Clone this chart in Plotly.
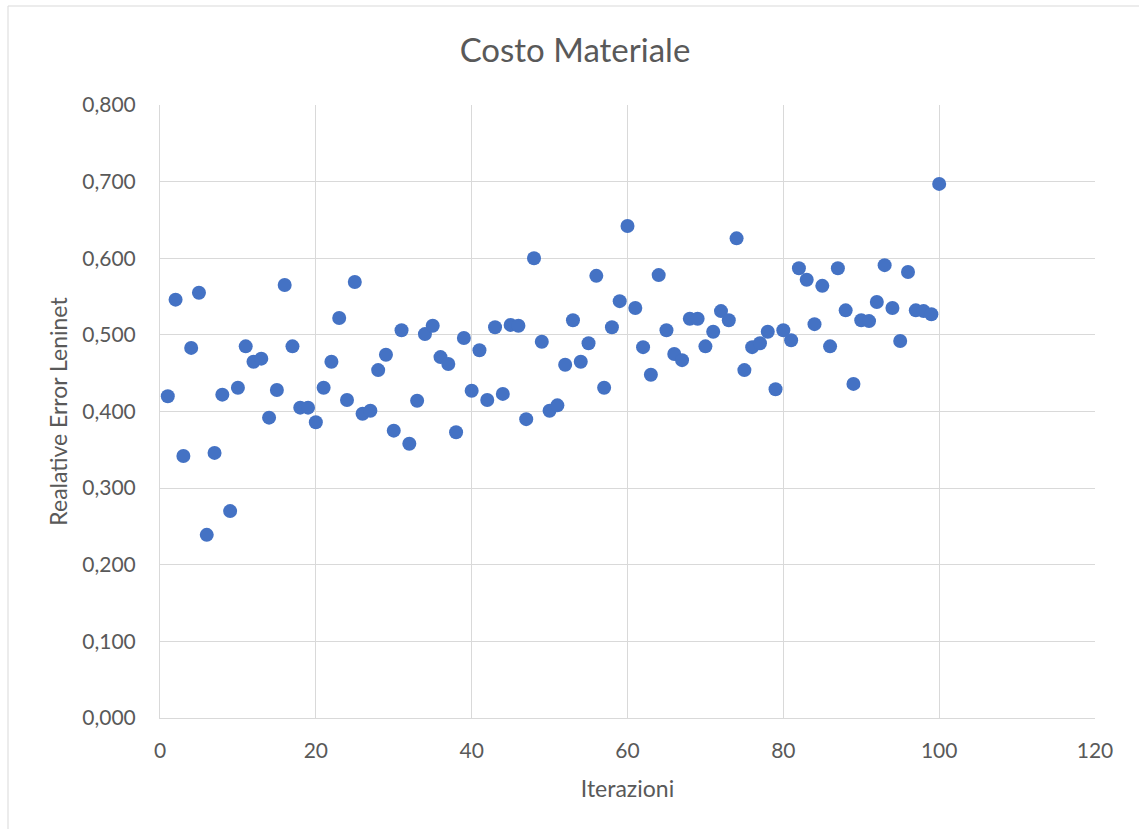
import plotly.graph_objects as go

# Relative error of the Leninet model at each iteration
iterazioni = list(range(1, 101))
errore_relativo = [
    0.420, 0.546, 0.342, 0.483, 0.555, 0.239, 0.346, 0.422, 0.270, 0.431,
    0.485, 0.465, 0.469, 0.392, 0.428, 0.565, 0.485, 0.405, 0.405, 0.386,
    0.431, 0.465, 0.522, 0.415, 0.569, 0.397, 0.401, 0.454, 0.474, 0.375,
    0.506, 0.358, 0.414, 0.501, 0.512, 0.471, 0.462, 0.373, 0.496, 0.427,
    0.480, 0.415, 0.510, 0.423, 0.513, 0.512, 0.390, 0.600, 0.491, 0.401,
    0.408, 0.461, 0.519, 0.465, 0.489, 0.577, 0.431, 0.510, 0.544, 0.642,
    0.535, 0.484, 0.448, 0.578, 0.506, 0.475, 0.467, 0.521, 0.521, 0.485,
    0.504, 0.531, 0.519, 0.626, 0.454, 0.484, 0.489, 0.504, 0.429, 0.506,
    0.493, 0.587, 0.572, 0.514, 0.564, 0.485, 0.587, 0.532, 0.436, 0.519,
    0.518, 0.543, 0.591, 0.535, 0.492, 0.582, 0.532, 0.531, 0.527, 0.697,
]

x_ticks = [0, 20, 40, 60, 80, 100, 120]
y_ticks = [0.0, 0.1, 0.2, 0.3, 0.4, 0.5, 0.6, 0.7, 0.8]

FONT = "Lato, 'Open Sans', sans-serif"
TEXT = "#595959"
GRID = "#d9d9d9"

fig = go.Figure(
    go.Scatter(
        x=iterazioni,
        y=errore_relativo,
        mode="markers",
        marker=dict(color="#4472c4", size=14, line=dict(width=0)),
        cliponaxis=False,
        showlegend=False,
    )
)

fig.update_layout(
    width=1139,
    height=829,
    margin=dict(l=160, r=44, t=105, b=111),
    paper_bgcolor="white",
    plot_bgcolor="white",
    separators=",.",
    font=dict(family=FONT, color=TEXT, size=21),
    title=dict(
        text="Costo Materiale",
        x=575 / 1139,
        xanchor="center",
        y=1 - 50 / 829,
        yanchor="middle",
        font=dict(family=FONT, size=33, color=TEXT),
    ),
    xaxis=dict(
        range=[0, 120],
        tickvals=x_ticks,
        showgrid=True,
        gridcolor=GRID,
        gridwidth=1,
        zeroline=False,
        showline=True,
        linecolor=GRID,
        linewidth=1,
        ticks="",
        ticklabelstandoff=14,
        tickfont=dict(size=21, color=TEXT),
        title=dict(text="Iterazioni", font=dict(size=23, color=TEXT), standoff=19),
    ),
    yaxis=dict(
        range=[0, 0.8],
        tickvals=y_ticks,
        tickformat=".3f",
        showgrid=True,
        gridcolor=GRID,
        gridwidth=1,
        zeroline=False,
        showline=True,
        linecolor=GRID,
        linewidth=1,
        ticks="",
        ticklabelstandoff=19,
        tickfont=dict(size=21, color=TEXT),
        title=dict(text="Realative Error Leninet", font=dict(size=23, color=TEXT), standoff=8),
    ),
)

# Chart area frame (top and left edges)
fx0 = (8 - 160) / 935
fy1 = (718 - 6) / 613
fig.add_shape(type="line", xref="paper", yref="paper", x0=fx0, x1=1.2, y0=fy1, y1=fy1,
              line=dict(color="#d9d9d9", width=1))
fig.add_shape(type="line", xref="paper", yref="paper", x0=fx0, x1=fx0, y0=fy1, y1=-0.3,
              line=dict(color="#d9d9d9", width=1))

fig.write_html("out.html")
